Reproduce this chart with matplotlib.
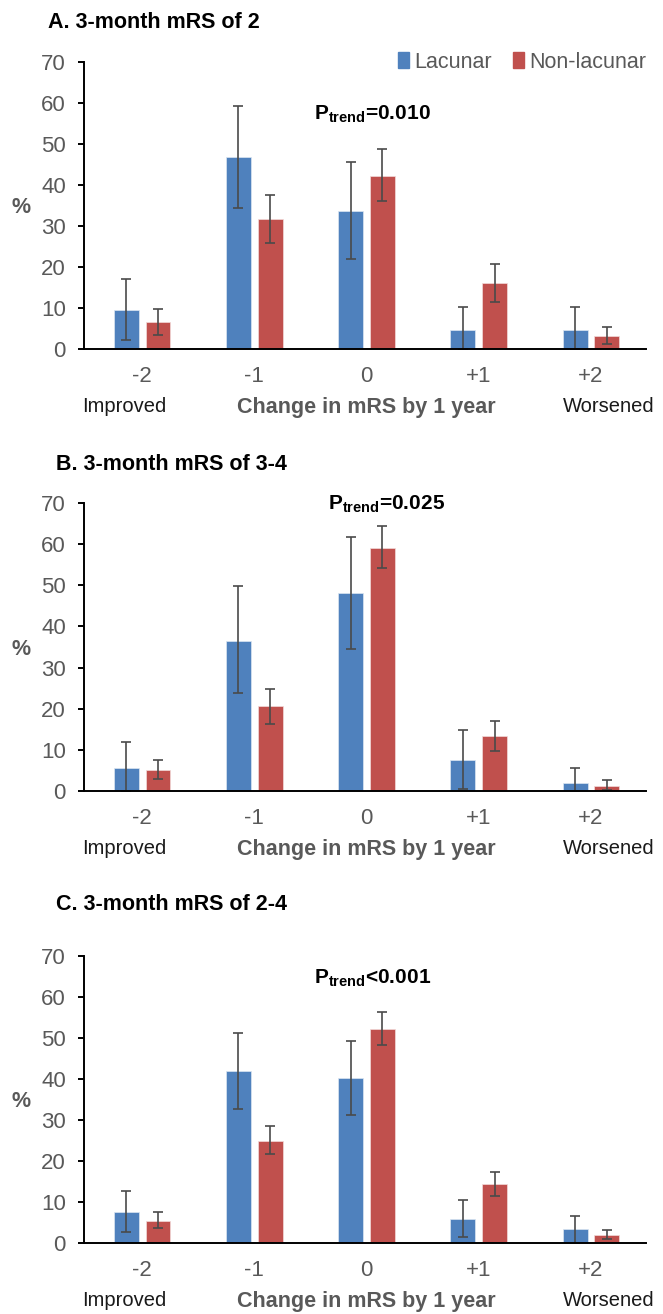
import matplotlib
matplotlib.use("Agg")
import matplotlib.pyplot as plt
from matplotlib.patches import Patch

plt.rcParams['font.family'] = ['Liberation Sans', 'DejaVu Sans']
plt.rcParams['mathtext.fontset'] = 'custom'
plt.rcParams['mathtext.rm'] = 'Liberation Sans'
plt.rcParams['mathtext.bf'] = 'Liberation Sans:bold'

# ---------------- data ----------------
categories = ['-2', '-1', '0', '+1', '+2']
series_names = ['Lacunar', 'Non-lacunar']
panel_titles = ['A. 3-month mRS of 2', 'B. 3-month mRS of 3-4', 'C. 3-month mRS of 2-4']
p_texts = ['=0.010', '=0.025', '<0.001']

A_lac = [9.6, 46.9, 33.7, 4.7, 4.7]
A_lac_lo = [2.2, 34.5, 22.0, 0.0, 0.0]
A_lac_hi = [17.1, 59.3, 45.5, 10.2, 10.2]
A_non = [6.5, 31.6, 42.3, 16.0, 3.2]
A_non_lo = [3.5, 25.8, 36.2, 11.5, 1.2]
A_non_hi = [9.8, 37.6, 48.8, 20.7, 5.4]

B_lac = [5.7, 36.4, 48.1, 7.6, 1.9]
B_lac_lo = [0.0, 23.7, 34.4, 0.4, 0.0]
B_lac_hi = [12.0, 49.8, 61.7, 14.8, 5.7]
B_non = [5.1, 20.7, 59.1, 13.4, 1.2]
B_non_lo = [2.8, 16.4, 54.2, 9.8, 0.2]
B_non_hi = [7.5, 24.9, 64.4, 17.0, 2.7]

C_lac = [7.6, 41.9, 40.2, 5.9, 3.3]
C_lac_lo = [2.8, 32.8, 31.3, 1.5, 0.0]
C_lac_hi = [12.7, 51.2, 49.2, 10.4, 6.6]
C_non = [5.4, 24.9, 52.2, 14.5, 1.9]
C_non_lo = [3.6, 21.6, 48.3, 11.5, 0.9]
C_non_hi = [7.5, 28.5, 56.4, 17.3, 3.2]

panels = [
    (A_lac, A_lac_lo, A_lac_hi, A_non, A_non_lo, A_non_hi),
    (B_lac, B_lac_lo, B_lac_hi, B_non, B_non_lo, B_non_hi),
    (C_lac, C_lac_lo, C_lac_hi, C_non, C_non_lo, C_non_hi),
]
p_pos = [(2.05, 57.3), (2.18, 69.6), (2.05, 64.5)]

# ---------------- style ----------------
BLUE = '#4F81BD'
RED = '#C0504D'
GRAY = '#595959'
ERR = '#4a4a4a'

W, H = 663, 1314
fig = plt.figure(figsize=(W / 100, H / 100), dpi=100)

left = 84 / W
width = (646 - 84) / W
zero_px = [349, 791, 1243]
top_px = [62, 503, 956]
title_px = [(48, 23), (56, 465), (56, 905)]

x = list(range(len(categories)))
off = 0.142
bw = 0.222

for k, (lac, llo, lhi, non, nlo, nhi) in enumerate(panels):
    bottom = (H - zero_px[k]) / H
    height = (zero_px[k] - top_px[k]) / H
    ax = fig.add_axes([left, bottom, width, height])
    xl = [i - off for i in x]
    xr = [i + off for i in x]
    err_l = [[v - lo for v, lo in zip(lac, llo)], [hi - v for v, hi in zip(lac, lhi)]]
    err_r = [[v - lo for v, lo in zip(non, nlo)], [hi - v for v, hi in zip(non, nhi)]]
    ekw = dict(ecolor=ERR, elinewidth=1.2, capsize=3.6, capthick=1.2)
    ax.bar(xl, lac, bw, color=BLUE, edgecolor='#dce6f2', linewidth=0.5,
           yerr=err_l, error_kw=ekw, zorder=2)
    ax.bar(xr, non, bw, color=RED, edgecolor='#f2dcdb', linewidth=0.5,
           yerr=err_r, error_kw=ekw, zorder=2)

    ax.set_xlim(-0.517, 4.49)
    ax.set_ylim(0, 70)
    ax.set_yticks(range(0, 71, 10))
    ax.set_xticks(x)
    ax.set_xticklabels(categories)
    for s in ['top', 'right']:
        ax.spines[s].set_visible(False)
    for s in ['left', 'bottom']:
        ax.spines[s].set_linewidth(1.4)
        ax.spines[s].set_color('black')
    ax.tick_params(axis='y', length=4, width=1.4, colors='black', labelcolor=GRAY,
                   labelsize=16, pad=9)
    ax.tick_params(axis='x', length=0, labelcolor=GRAY, labelsize=16, pad=12)

    trans = ax.get_xaxis_transform()
    hpx = zero_px[k] - top_px[k]
    ylab = -58 / hpx
    ax.text(-0.16, ylab, 'Improved', transform=trans, ha='center', va='center',
            fontsize=14.5, color='#1a1a1a')
    ax.text(2.0, ylab, 'Change in mRS by 1 year', transform=trans, ha='center',
            va='center', fontsize=15.5, fontweight='bold', color=GRAY)
    ax.text(4.16, ylab, 'Worsened', transform=trans, ha='center', va='center',
            fontsize=14.5, color='#1a1a1a')

    # y label "%"
    fig.text(21 / W, 1 - (zero_px[k] - 34.5 * hpx / 70) / H, '%', ha='center',
             va='center', fontsize=15.5, fontweight='bold', color=GRAY)

    # P trend
    px, py = p_pos[k]
    ax.text(px, py, r'$\mathbf{P_{trend}}$' + p_texts[k], ha='center', va='center',
            fontsize=15, fontweight='bold', color='black')

    # title
    tx, ty = title_px[k]
    fig.text(tx / W, 1 - ty / H, panel_titles[k], ha='left', va='center',
             fontsize=15.5, fontweight='bold', color='black')

    if k == 0:
        handles = [Patch(color=BLUE, label=series_names[0]),
                   Patch(color=RED, label=series_names[1])]
        fig.legend(handles=handles, loc='center right', ncol=2, frameon=False,
                   bbox_to_anchor=(655 / W, 1 - 62 / H), fontsize=15.5,
                   handlelength=0.5, handleheight=0.7, handletextpad=0.25,
                   columnspacing=1.0, labelcolor=GRAY, borderaxespad=0)

fig.savefig('out.png', dpi=100)
